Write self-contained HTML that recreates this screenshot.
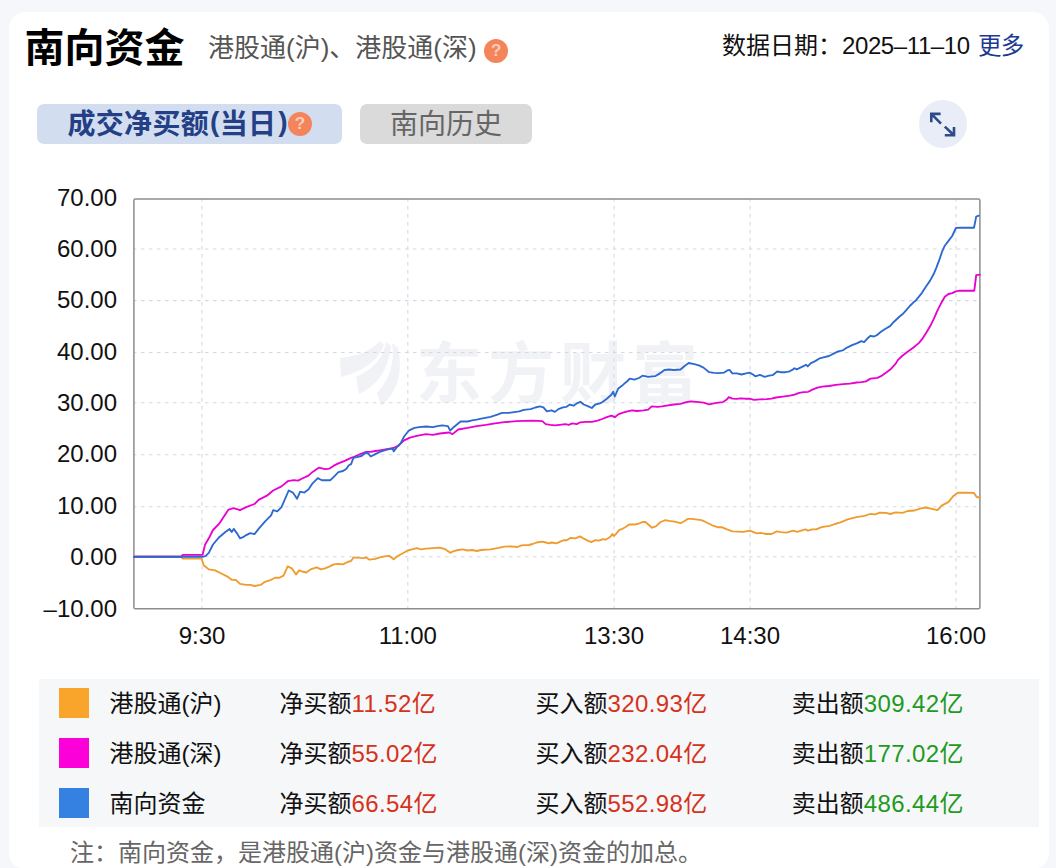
<!DOCTYPE html>
<html lang="zh-CN"><head><meta charset="utf-8"><title>南向资金</title>
<style>
*{box-sizing:border-box;margin:0;padding:0}
html,body{width:1056px;height:868px;overflow:hidden;background:#f5f7fa}
body{position:relative;font-family:"Liberation Sans","Noto Sans CJK SC",sans-serif;color:#111}
.card{position:absolute;left:9px;top:11.5px;width:1039.8px;height:857px;background:#fff;border-radius:16px}
.abs{position:absolute;white-space:nowrap}
.title{left:24.6px;top:24px;font-size:40px;font-weight:700;line-height:48px;color:#000}
.sub{left:208px;top:32px;font-size:26px;line-height:32px;color:#555}
.q{position:absolute;width:24px;height:24px;border-radius:50%;background:#f4845a;color:rgba(255,255,255,.62);font-size:17px;font-weight:700;line-height:24px;text-align:center;font-family:"Liberation Sans",sans-serif}
.date{left:722px;top:30px;font-size:24px;line-height:32px;color:#111}
.date a{color:#1b3a92;text-decoration:none;font-size:23.5px;letter-spacing:-0.5px;margin-left:1.5px}
.tab1{left:37px;top:104px;width:305px;height:39.5px;border-radius:7px;background:#d3ddf0}
.tab1 span{position:absolute;left:30.5px;top:4.5px;font-size:28px;line-height:32px;font-weight:700;color:#233f86;letter-spacing:0.3px}
.tab1 i{font-style:normal;position:relative;top:-2.5px} .tab1 .pl{margin:0 0 0 1px} .tab1 .pr{margin:0 0 0 2px}
.tab2{left:360px;top:104.3px;width:172px;height:39.4px;border-radius:7px;background:#dadada}
.tab2 span{position:absolute;left:30px;top:4.5px;font-size:28px;line-height:32px;color:#666;font-weight:400}
.exp{left:919px;top:100px;width:48px;height:48px;border-radius:50%;background:#e8edf7}
svg.chart{position:absolute;left:0;top:0}
.legend{left:38.5px;top:678.8px;width:1000.5px;height:148.7px;background:#f6f7f9}
.row{position:absolute;left:0;width:100%;height:50px;font-size:24px;line-height:30px}
.sw{position:absolute;left:20.5px;top:9.5px;width:30px;height:30px}
.nm{position:absolute;left:71px;top:10px}
.c1{position:absolute;top:10px;left:241px}
.c2{position:absolute;top:10px;left:497px}
.c3{position:absolute;top:10px;left:753.2px}
.red{color:#d5321c;letter-spacing:0.4px} .grn{color:#1f9a1f;letter-spacing:0.4px}
.note{left:70px;top:838px;font-size:24px;line-height:30px;color:#666}
</style></head><body>
<div class="card"></div>
<div class="abs title">南向资金</div>
<div class="abs sub">港股通(沪)、港股通(深)</div>
<div class="q" style="left:484.2px;top:38.7px">?</div>
<div class="abs date">数据日期：<span style="letter-spacing:-0.4px">2025–11–10</span> <a>更多</a></div>
<div class="abs tab1"><span>成交净买额<i class="pl">(</i>当日<i class="pr">)</i></span><div class="q" style="left:251px;top:8px">?</div></div>
<div class="abs tab2"><span>南向历史</span></div>
<div class="abs exp"><svg width="48" height="48" viewBox="0 0 48 48"><g fill="none" stroke="#2d4a8b" stroke-width="2.6" stroke-linecap="butt" stroke-linejoin="miter"><path d="M12.3 22.3V13.9H21.6M12.3 13.9L22 23.6"/><path d="M35 27V35.2H25.8M35 35.2L25.8 26.6"/></g></svg></div>
<svg class="chart" width="1056" height="660" viewBox="0 0 1056 660">
<g fill="#f1f2f5"><path d="M380,341 C370,352 356,356 340,358 L341,377 C360,372 378,362 384,345 Z"/><path d="M386,342 C384,358 372,370 356,377 L359,394 C376,386 388,372 391,346 Z"/><path d="M392,343 C395,360 390,380 377,393 L381,406 C398,392 403,372 398,348 Z"/>
<text x="416" y="397" font-family="Liberation Sans,Noto Sans CJK SC,sans-serif" font-weight="700" font-size="66" letter-spacing="6">东方财富</text></g>
<g stroke="#d2d9e3" stroke-width="1.1" stroke-dasharray="3.5 4.5" stroke-dashoffset="1"><line x1="134" y1="249.0" x2="980" y2="249.0"/><line x1="134" y1="300.6" x2="980" y2="300.6"/><line x1="134" y1="352.5" x2="980" y2="352.5"/><line x1="134" y1="402.8" x2="980" y2="402.8"/><line x1="134" y1="454.8" x2="980" y2="454.8"/><line x1="134" y1="506.8" x2="980" y2="506.8"/><line x1="134" y1="556.8" x2="980" y2="556.8"/><line x1="202" y1="199" x2="202" y2="608.5"/><line x1="407.8" y1="199" x2="407.8" y2="608.5"/><line x1="614" y1="199" x2="614" y2="608.5"/><line x1="750" y1="199" x2="750" y2="608.5"/><line x1="956" y1="199" x2="956" y2="608.5"/></g>
<rect x="133.9" y="198.9" width="846" height="409.8" fill="none" stroke="#8d8d8d" stroke-width="1.5" rx="1.5"/>
<g font-size="24" fill="#111" text-anchor="end" font-family="Liberation Sans,sans-serif"><text x="117" y="205.68">70.00</text><text x="117" y="257.04">60.00</text><text x="117" y="308.40">50.00</text><text x="117" y="359.76">40.00</text><text x="117" y="411.12">30.00</text><text x="117" y="462.48">20.00</text><text x="117" y="513.84">10.00</text><text x="117" y="565.20">0.00</text><text x="117" y="616.56">–10.00</text></g>
<g font-size="24" fill="#111" text-anchor="middle" font-family="Liberation Sans,sans-serif"><text x="202" y="644">9:30</text><text x="407.8" y="644">11:00</text><text x="614" y="644">13:30</text><text x="750" y="644">14:30</text><text x="956" y="644">16:00</text></g>
<g fill="none" stroke-width="1.85" stroke-linejoin="round" stroke-linecap="round">
<polyline stroke="#ef9c2e" points="134,556.7 181.5,556.7 182.5,558.6 201,558.6 201.6,558.6 203.7,565.2 208.8,569.4 215.1,570.4 221.3,573.5 227.5,576.6 231.7,579.8 235.8,579.8 240,583.9 246.2,584.9 250.3,584.9 254.5,586 260.7,584.9 264.9,581.8 271.1,579.8 275.2,577.7 279.4,577.7 283.5,575.6 287.7,566.3 291.8,568.3 296,574.6 299.1,570.4 302.2,571.5 306.3,572.5 310.5,569.4 316.7,567.3 320.9,569.4 325,568.3 329.2,566.6 333.8,564.3 338.4,563.9 343,564.3 347.6,562 351.1,560.9 353.4,557.4 359.2,557.9 363.8,558.1 366.1,557.4 369.5,559.7 375.3,558.8 379.9,557.4 384.5,556.3 389.1,555.8 393.7,559.3 397.2,556.3 402.9,553.3 407.6,550.5 412.2,549.4 416.8,548.2 421.4,549.4 426,548.7 432.9,548.2 439.8,547.7 445.6,549.4 450.2,552.8 453.6,551.2 458.2,550 462.9,549.4 467.5,550.5 472.1,550 476.7,551 481.3,550 490.5,549.4 497.4,548.2 504.3,546.6 511.2,546.4 517.6,547 521.4,545.3 528.9,545 532.7,544 536.5,542.5 542.2,541.6 546,542.5 548.8,543.4 551.7,542.5 556.4,543.4 560.2,541.6 564,540.2 566.8,540.2 570.6,537.8 575.3,538.3 580.1,536.4 583.9,538.7 587.7,540.6 591.4,542.1 595.2,540.2 599,540.6 602.8,539.1 605.6,539.7 610.4,536.8 612.3,534 613.8,535.9 616.1,534 618.9,530.2 621.7,529.2 625.5,527 629.3,524.5 635,524.5 638.8,523.6 642.6,522 645.4,522 648.3,524.5 652,527.7 655.8,526.4 660.6,522 665.3,520.2 669.1,520.9 674.8,521.7 680.5,523.2 684.2,521.3 688,518.8 691.8,518.8 695.6,519.4 701.3,520.2 705.1,521.7 712.1,525.3 717.5,527.2 721.6,527.2 727,529.4 732.4,531.3 743.2,531.8 749.9,530.7 756.7,533.4 760.7,532.9 766.1,534 771.5,534 776.9,531.3 781,532.1 786.4,532.6 793.1,530.7 797.2,531.8 805.3,529.4 808,530.7 812,529.4 816.1,529.4 821.5,527.2 829.6,525.9 835,524 840.4,522.4 848.4,519.1 856.5,517.2 864.6,515.9 870,514 875.4,514.3 879.5,512.7 886.2,512.9 890.3,514 895.7,512.4 902.4,512.9 907.8,511 914.6,510.5 920,508.6 925.4,507.5 932.1,508.9 937.5,510.2 941.6,505.6 948.3,502.1 953.7,495.7 957.8,492.7 967.2,492.7 974,493 976.7,497 979.6,497.5"/>
<polyline stroke="#ea00cf" points="134,556.7 181.5,556.7 182.5,554.9 202,554.9 202.6,554.9 205.1,544.5 208.8,538.3 213,530 219.2,523.7 228.5,509.6 233.7,508.2 240,510.2 246.2,507.1 254.5,504 258.6,499.9 266.9,495.7 273.2,490.5 281.5,486.4 287.7,481.2 293.9,480.2 298,480.6 302.2,478.5 308.4,475.6 312.6,471.9 318.8,467.7 325,469.2 329.2,468.7 333.8,465.7 338.4,463.4 345.3,460.6 350,458.3 354.6,456.5 360.3,454.2 366.1,451.9 370.7,451.9 375.3,451 379.9,450.3 386.8,449.1 393.7,448 398.3,445.7 404.1,440.4 409.9,437.6 416.8,435.8 426,434.1 432.9,434.8 439.8,433.5 449,432.5 452.5,434.1 458.2,429.5 467.5,427.9 476.7,426.1 485.9,424.9 495.1,423.3 504.3,422.2 516.9,421.1 523.8,420.9 533,420.6 542.3,421.1 545.7,424.1 550.3,424.8 554.9,425.3 559.5,424.8 565.3,424.1 568.8,424.8 572.2,423.4 576.8,424.1 580.3,422.3 586,421.8 591.8,421.8 597.6,420.6 602.2,419 606.8,417.2 611.4,415.6 614.8,417.2 618.3,414.4 622.9,412.6 627.5,411.4 632.1,410.3 636.7,411 643.6,410.3 648.2,409.6 651.7,406.4 657.5,406.8 662.1,406.4 666.7,405.7 673.6,404.5 680.5,403.8 686.3,402.2 690.9,401.3 696.6,401.8 703.5,402.7 709.2,404.4 713.8,403.3 718.4,402.6 723,402.1 726.5,399.8 728.8,397.1 732.3,398.7 736.9,398.9 740.3,398.4 744.9,398.7 749.5,398.7 754.1,399.8 759.9,399.4 766.8,399.1 771.4,398.7 776,397.5 782.9,396.6 789.9,395.7 794.5,394.7 799.1,392.9 803.7,392.2 808.3,391.8 812.9,389.4 817.5,387.6 822.1,386.7 829,386 835.9,384.8 842.9,384.1 849.8,383.7 856.7,382.5 861.3,382.1 865.9,381.4 870.5,378.6 877.4,377.9 882,375.6 886.6,372.2 891.2,368.7 895.9,363.4 897.8,360.1 902.4,355.8 907.9,351.6 913.5,347.5 919,342.9 922.7,338.3 926.4,332.4 930.1,326.3 933.8,318.9 937.4,310.6 941.1,303.3 944.8,296.8 948.5,294 952.2,293.1 955.9,291.3 959.6,290.7 970.6,290.7 974.3,290.7 976.2,275.2 979.9,274.7"/>
<polyline stroke="#2d6acf" points="134,556.7 202,556.7 202.6,556.9 205.7,555.9 208.8,552.8 213,544.5 219.2,537.2 225.4,532 229.6,528.9 231.7,532 233.7,528.9 236.8,533.1 240,538.3 243.1,537.2 246.2,535.1 250.3,533.1 254.5,534.1 258.6,528.9 264.9,521.7 271.1,515.4 273.2,510.2 277.3,511.3 281.5,507.1 288.7,490.5 292.9,492.6 297,498.8 300.1,491.6 304.3,492.6 308.4,489.5 312.6,483.3 317.8,478.1 321.9,480.2 326.9,480.2 330.4,480.2 333.8,476.8 338.4,472.2 343,471 346.5,468.7 348.8,465.3 351.1,464.1 353.4,457.9 356.9,457.2 361.5,456 366.1,452.6 368.4,453.7 370.7,456.5 375.3,454.2 379.9,451.9 384.5,450.3 389.1,449.1 392.6,448.7 393.7,451.4 397.2,446.8 400.6,443.4 404.1,436.5 408.7,430.7 414.5,427.9 419.1,427.2 426,426.5 432.9,427.2 437.5,426.1 442.1,425.4 447.9,426.1 450.2,430.7 453.6,427.2 460.6,421.5 467.5,421.5 472.1,420.3 476.7,419.6 481.3,418.7 490.5,416.9 497.4,414.6 502,412.9 508.9,412.9 519.2,411.4 523.8,409.8 530.7,409.1 535.3,407.5 540,406.4 543.4,407.3 546.9,411.4 551.5,410.3 554.9,411.9 558.4,409.1 563,407.3 566.5,406.8 569.9,404.5 573.4,405.7 576.8,403.4 580.3,401.8 583.7,404.5 588.3,406.4 591.8,408 595.3,404.5 599.9,403.4 602.2,402.2 606.8,398.8 611.4,394.8 613.2,391.8 614.8,396.5 618.3,388.4 622.9,384.9 627.5,381 629.8,378.7 634.4,379.6 639,378 642.5,375.7 648.2,376.9 655.2,376.2 659.8,373.4 664.4,370 669,369.5 673.6,370 680.5,369.5 684,366.5 688.6,363 694.3,364.2 698.9,365.3 703.5,367.6 709.2,372.2 713.8,372.9 718.4,373.1 724.2,372.6 727.6,370.3 729.5,369.9 732.3,373.3 736.9,373.3 741.5,374.5 746.1,373.3 749.5,372.6 753,374.5 755.3,376.3 759.9,374.9 764.5,376.8 769.1,375.6 772.6,375.2 777.2,371.5 780.6,372.2 785.3,372.2 788.7,371.7 792.2,369.9 794.5,368.2 796.8,369.4 801.4,367.1 806,364.8 807.8,366.4 810.6,363.4 815.2,361.1 819.8,358.3 824.4,357.2 829,356 833.6,353.7 838.2,351.4 842.9,350.3 847.5,347.3 852.1,345.2 856.7,343.4 861.3,341.1 864.1,342.2 867.1,338.8 870.5,335.8 874,336.5 877.4,334.8 880.9,331.8 885.5,328.8 890.1,326.1 893.5,322.2 899.6,316.5 902.4,314.3 906.1,310.3 909.8,306 913.5,302.3 915.3,301.1 918.1,297.7 921.8,293.1 925.5,287.2 930.1,280.6 933.8,273.8 936.5,267.3 939.3,259.9 942.1,251.6 944.8,245.7 948.5,240.9 952.2,236 955.9,228 959.6,227.7 970.6,227.7 974,227.7 976.2,216.6 978.9,215.7"/>
</g>
</svg>
<div class="abs legend">
<div class="row" style="top:0"><div class="sw" style="background:#f9a42b"></div><div class="nm">港股通(沪)</div><div class="c1">净买额<span class="red">11.52亿</span></div><div class="c2">买入额<span class="red">320.93亿</span></div><div class="c3">卖出额<span class="grn">309.42亿</span></div></div>
<div class="row" style="top:50px"><div class="sw" style="background:#fc00da"></div><div class="nm">港股通(深)</div><div class="c1">净买额<span class="red">55.02亿</span></div><div class="c2">买入额<span class="red">232.04亿</span></div><div class="c3">卖出额<span class="grn">177.02亿</span></div></div>
<div class="row" style="top:100px"><div class="sw" style="background:#3581e2"></div><div class="nm">南向资金</div><div class="c1">净买额<span class="red">66.54亿</span></div><div class="c2">买入额<span class="red">552.98亿</span></div><div class="c3">卖出额<span class="grn">486.44亿</span></div></div>
</div>
<div class="abs note">注：南向资金，是港股通(沪)资金与港股通(深)资金的加总。</div>
</body></html>
